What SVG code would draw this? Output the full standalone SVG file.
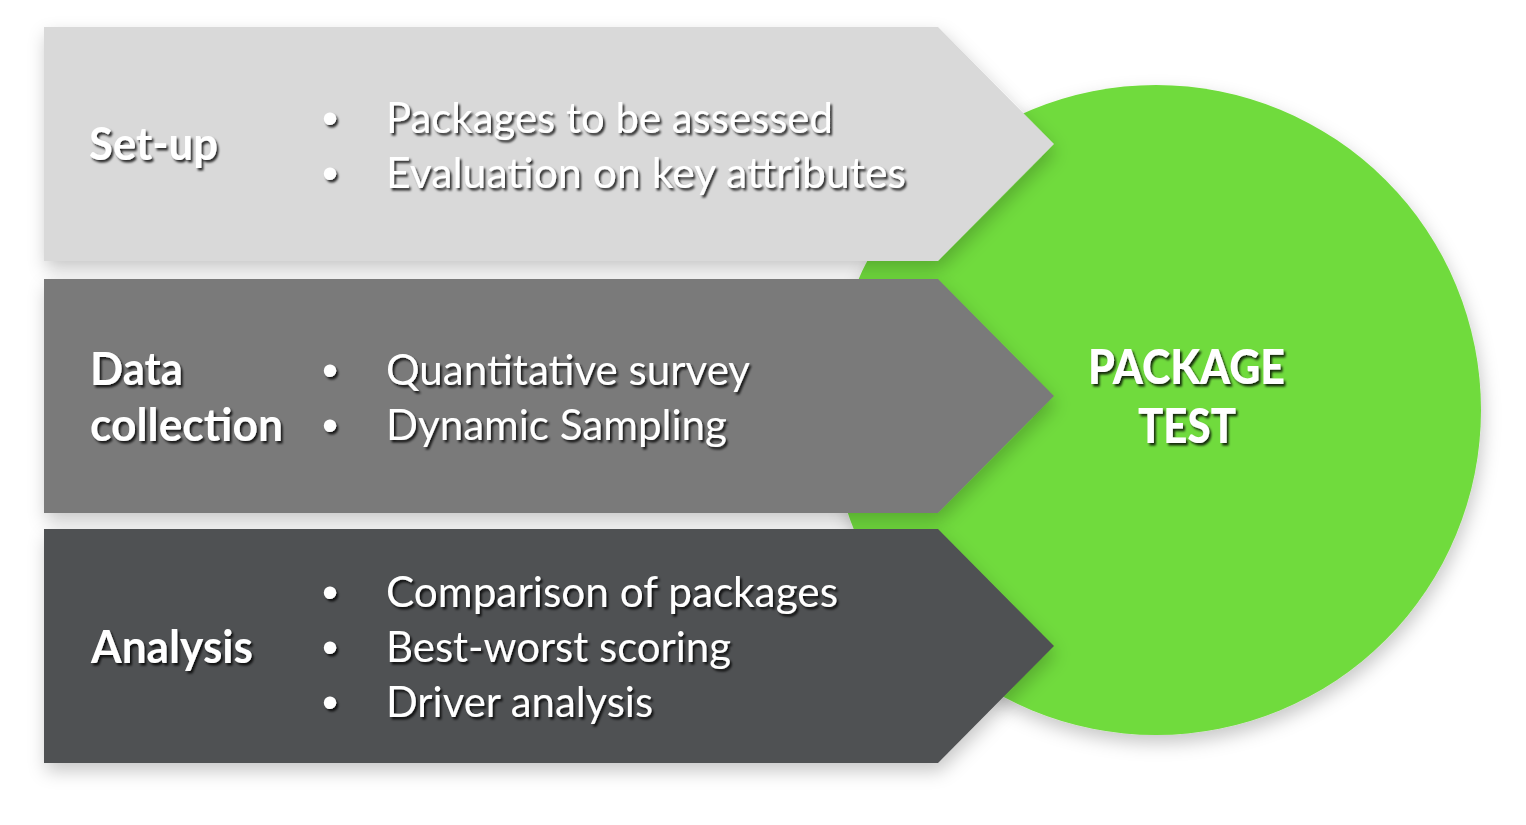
<svg xmlns="http://www.w3.org/2000/svg" width="1526" height="825" viewBox="0 0 1526 825">
  <defs>
    <filter id="shapeShadow" x="-10%" y="-20%" width="125%" height="150%">
      <feDropShadow dx="2" dy="8" stdDeviation="9" flood-color="#000" flood-opacity="0.22"/>
    </filter>
    <filter id="textShadow" x="-10%" y="-30%" width="130%" height="170%">
      <feDropShadow dx="2" dy="2.5" stdDeviation="1.2" flood-color="#000" flood-opacity="0.8"/>
    </filter>
  </defs>
  <style>
    .txt { font-family: Lato, "Open Sans", "Liberation Sans", sans-serif; fill: #ffffff; filter: url(#textShadow); }
    .title { font-size: 46px; font-weight: 700; }
    .item { font-size: 43px; font-weight: 400; }
    .bullet { font-size: 46px; font-family: "Liberation Sans", sans-serif; fill: #ffffff; filter: url(#textShadow); }
    .center { font-size: 48px; font-weight: 900; }
  </style>
  <rect width="1526" height="825" fill="#ffffff"/>

  <g id="package-test">
    <circle cx="1156" cy="410" r="325" fill="#70DB3C" filter="url(#shapeShadow)"/>
    <text class="txt center" x="1088" y="384" textLength="197" lengthAdjust="spacingAndGlyphs">PACKAGE</text>
    <text class="txt center" x="1138" y="443" textLength="98" lengthAdjust="spacingAndGlyphs">TEST</text>
  </g>

  <g id="setup">
    <polygon points="44,27 938,27 1054,144 938,261 44,261" fill="#D9D9D9" filter="url(#shapeShadow)"/>
    <text class="txt title" x="89" y="160" textLength="129" lengthAdjust="spacingAndGlyphs">Set-up</text>
    <text class="bullet" x="322" y="134">•</text>
    <text class="txt item" x="386" y="133" textLength="447" lengthAdjust="spacingAndGlyphs">Packages to be assessed</text>
    <text class="bullet" x="322" y="189">•</text>
    <text class="txt item" x="386" y="188" textLength="520" lengthAdjust="spacingAndGlyphs">Evaluation on key attributes</text>
  </g>

  <g id="data-collection">
    <polygon points="44,279 938,279 1054,396 938,513 44,513" fill="#7A7A7A" filter="url(#shapeShadow)"/>
    <text class="txt title" x="90" y="385" textLength="93" lengthAdjust="spacingAndGlyphs">Data</text>
    <text class="txt title" x="90" y="441" textLength="193" lengthAdjust="spacingAndGlyphs">collection</text>
    <text class="bullet" x="322" y="386">•</text>
    <text class="txt item" x="386" y="385" textLength="364" lengthAdjust="spacingAndGlyphs">Quantitative survey</text>
    <text class="bullet" x="322" y="441">•</text>
    <text class="txt item" x="386" y="440" textLength="341" lengthAdjust="spacingAndGlyphs">Dynamic Sampling</text>
  </g>

  <g id="analysis">
    <polygon points="44,529 938,529 1054,646 938,763 44,763" fill="#505153" filter="url(#shapeShadow)"/>
    <text class="txt title" x="91" y="663" textLength="162" lengthAdjust="spacingAndGlyphs">Analysis</text>
    <text class="bullet" x="322" y="608">•</text>
    <text class="txt item" x="386" y="607" textLength="452" lengthAdjust="spacingAndGlyphs">Comparison of packages</text>
    <text class="bullet" x="322" y="663">•</text>
    <text class="txt item" x="386" y="662" textLength="345" lengthAdjust="spacingAndGlyphs">Best-worst scoring</text>
    <text class="bullet" x="322" y="718">•</text>
    <text class="txt item" x="386" y="717" textLength="267" lengthAdjust="spacingAndGlyphs">Driver analysis</text>
  </g>
</svg>
